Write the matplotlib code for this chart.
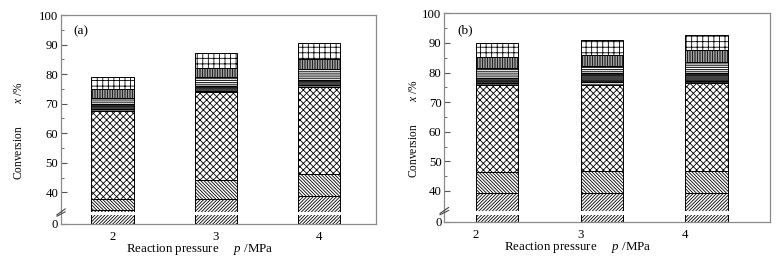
import numpy as np
import matplotlib
matplotlib.use("Agg")
import matplotlib.pyplot as plt

plt.rcParams['font.family'] = ['Liberation Serif', 'DejaVu Serif']
plt.rcParams['mathtext.fontset'] = 'custom'
plt.rcParams['mathtext.it'] = 'Liberation Serif:italic'
plt.rcParams['mathtext.rm'] = 'Liberation Serif'
plt.rcParams['hatch.linewidth'] = 0.6

pressures = [2, 3, 4]
tick_labels = ['2', '3', '4']

# Segment sizes (stacked, %), bottom to top
a_s1 = [34.0, 37.6, 38.9]
a_s2 = [3.9, 6.5, 7.2]
a_s3 = [29.7, 29.7, 29.6]
a_s4 = [0.7, 0.6, 0.7]
a_s5 = [1.7, 1.6, 1.6]
a_s6 = [1.8, 2.9, 3.7]
a_s7 = [3.1, 3.2, 3.4]
a_s8 = [4.0, 4.9, 5.4]

b_s1 = [39.2, 39.2, 39.2]
b_s2 = [7.1, 7.4, 7.6]
b_s3 = [29.4, 29.3, 29.8]
b_s4 = [0.6, 0.9, 0.6]
b_s5 = [1.7, 3.0, 2.8]
b_s6 = [3.5, 2.5, 3.5]
b_s7 = [3.7, 3.7, 4.0]
b_s8 = [4.7, 5.0, 5.2]

hatches = ['//////////', '\\\\\\\\\\\\\\\\\\\\', 'xxxxx', '---------',
           '--------------', '---------', '||||||||||', '+++']
faces = ['white', 'white', 'white', 'white', '#bdbdbd', 'white', '#d4d4d4', 'white']

fig = plt.figure(figsize=(7.76, 2.68), dpi=100)
axA = fig.add_axes([61/776, 44/268, 315/776, 209/268])
axB = fig.add_axes([444.3/776, 46/268, 325.7/776, 208.7/268])


def make_scale(zero_pos, T=32.0):
    def fwd(v):
        v = np.asarray(v, dtype=float)
        return np.where(v >= T, v, zero_pos + v * (T - zero_pos) / T)

    def inv(y):
        y = np.asarray(y, dtype=float)
        return np.where(y >= T, y, (y - zero_pos) * T / (T - zero_pos))
    return fwd, inv


def draw(ax, segs, width, align, xlim, label, zero_pos, gap, xlabel_x, ylabel_x):
    ax.set_yscale('function', functions=make_scale(zero_pos))
    bottom = np.zeros(len(pressures))
    for seg, h, fc in zip(segs, hatches, faces):
        ax.bar(pressures, seg, width=width, bottom=bottom, align=align,
               facecolor=fc, edgecolor='black', hatch=h, linewidth=0.7, zorder=1)
        bottom = bottom + np.array(seg)
    ax.axhspan(gap[0], gap[1], color='white', zorder=2, lw=0)
    ax.set_ylim(0, 100)
    ax.set_xlim(*xlim)
    ax.set_yticks([0, 40, 50, 60, 70, 80, 90, 100])
    ax.set_yticks([45, 55, 65, 75, 85, 95], minor=True)
    ax.set_xticks(pressures)
    ax.set_xticklabels(tick_labels)
    ax.tick_params(axis='y', which='both', direction='in', color='#555555',
                   labelsize=9.2, pad=2)
    ax.tick_params(axis='y', which='major', length=4)
    ax.tick_params(axis='y', which='minor', length=2)
    ax.tick_params(axis='x', length=0, labelsize=9.2, pad=5)
    for sp in ax.spines.values():
        sp.set_color('#8a8a8a')
        sp.set_linewidth(0.9)
    ax.text(0.04, 0.92, label, transform=ax.transAxes, fontsize=9.5,
            va='center', ha='left')
    tr = ax.get_yaxis_transform()
    for off in (0.0, 1.0):
        ax.plot([-0.013, 0.013], [31.4 + off, 33.4 + off], color='#444444',
                lw=0.8, transform=tr, clip_on=False, zorder=5)
    ax.set_xlabel('Reaction pressure     $p$ /MPa', fontsize=9.3)
    ax.xaxis.set_label_coords(xlabel_x, -0.085)
    ax.set_ylabel('Conversion        $x$ /%', fontsize=8.3)
    ax.yaxis.set_label_coords(ylabel_x, 0.445)


draw(axA, [a_s1, a_s2, a_s3, a_s4, a_s5, a_s6, a_s7, a_s8], 0.41, 'center',
     (1.5, 4.55), '(a)', 29.3, (32.3, 33.3), 0.44, -0.115)
draw(axB, [b_s1, b_s2, b_s3, b_s4, b_s5, b_s6, b_s7, b_s8], 0.405, 'edge',
     (1.697, 4.81), '(b)', 29.5, (31.9, 33.2), 0.41, -0.075)

fig.savefig('out.png', dpi=100)
